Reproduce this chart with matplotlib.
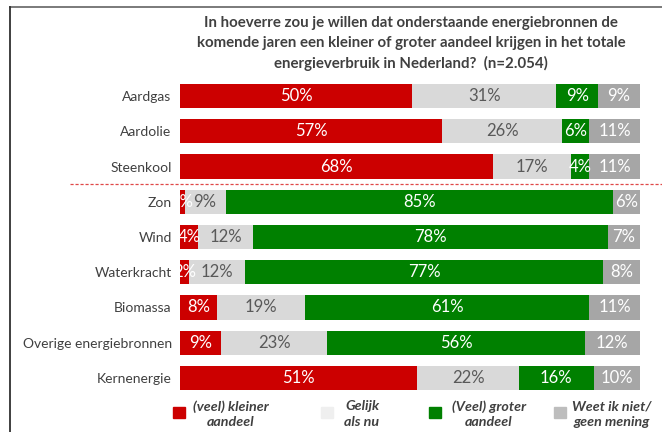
import matplotlib
matplotlib.use('Agg')
import matplotlib.pyplot as plt
from matplotlib.lines import Line2D
from matplotlib.patches import Rectangle
import numpy as np

# data
bronnen = ['Aardgas', 'Aardolie', 'Steenkool', 'Zon', 'Wind', 'Waterkracht',
           'Biomassa', 'Overige energiebronnen', 'Kernenergie']
kleiner = [50, 57, 68, 1, 4, 2, 8, 9, 51]
gelijk = [31, 26, 17, 9, 12, 12, 19, 23, 22]
groter = [9, 6, 4, 85, 78, 77, 61, 56, 16]
weet_niet = [9, 11, 11, 6, 7, 8, 11, 12, 10]

legend_labels = ['(veel) kleiner\naandeel', 'Gelijk\nals nu',
                 '(Veel) groter\naandeel', 'Weet ik niet/\ngeen mening']
title = ('In hoeverre zou je willen dat onderstaande energiebronnen de\n'
         'komende jaren een kleiner of groter aandeel krijgen in het totale\n'
         'energieverbruik in Nederland?  (n=2.054)')

colors = ['#CC0000', '#D9D9D9', '#008000', '#A6A6A6']
legend_colors = ['#CC0000', '#EFEFEF', '#008000', '#BDBDBD']
text_colors = ['white', '#595959', 'white', 'white']
dark = '#404040'

plt.rcParams['font.family'] = ['Lato', 'DejaVu Sans']

fig = plt.figure(figsize=(6.62, 4.32), dpi=100)
ax = fig.add_axes([180 / 662, 1 - 395.6 / 432, 460 / 662, (395.6 - 78.4) / 432])

series = np.array([kleiner, gelijk, groter, weet_niet], dtype=float)
totals = series.sum(axis=0)
shares = series / totals * 100
y = np.arange(len(bronnen))

left = np.zeros(len(bronnen))
for i in range(4):
    ax.barh(y, shares[i], left=left, height=0.69, color=colors[i])
    for j in range(len(bronnen)):
        ax.text(left[j] + shares[i][j] / 2, y[j], f'{int(series[i][j])}%',
                ha='center', va='center', fontsize=12, color=text_colors[i])
    left += shares[i]

ax.set_xlim(0, 100)
ax.set_ylim(len(bronnen) - 0.5, -0.5)
ax.set_yticks(y)
ax.set_yticklabels(bronnen, fontsize=10, color=dark)
ax.set_xticks([])
ax.tick_params(axis='y', length=0, pad=6)
for s in ax.spines.values():
    s.set_visible(False)

# red dashed separator between fossil and renewable sources
ax.axhline(2.5, xmin=(70 - 180) / 460, xmax=(662 - 180) / 460, color='#E04848',
           linestyle=(0, (2.5, 1.5)), linewidth=0.9, clip_on=False)

fig.text(411 / 662, 1 - 15.5 / 432, title, ha='center', va='top', fontsize=10.8,
         fontweight='bold', color=dark, linespacing=1.55)

# legend
sq_x = [173, 321, 429, 554]
txt_x = [231, 362, 489, 612]
for sx, tx, lab, c in zip(sq_x, txt_x, legend_labels, legend_colors):
    fig.add_artist(Rectangle((sx / 662, 1 - 418 / 432), 12 / 662, 11 / 432,
                             transform=fig.transFigure, color=c))
    fig.text(tx / 662, 1 - 414 / 432, lab, ha='center', va='center',
             multialignment='center', fontsize=10.3, style='italic',
             fontweight='bold', color=dark, linespacing=1.3)

# frame lines of the original screenshot
fig.add_artist(Line2D([10 / 662, 1], [1 - 6.5 / 432, 1 - 6.5 / 432], color='#707070', linewidth=1.3))
fig.add_artist(Line2D([10 / 662, 10 / 662], [0, 1 - 6.5 / 432], color='#303030', linewidth=1.3))

fig.savefig('out.png', dpi=100)
